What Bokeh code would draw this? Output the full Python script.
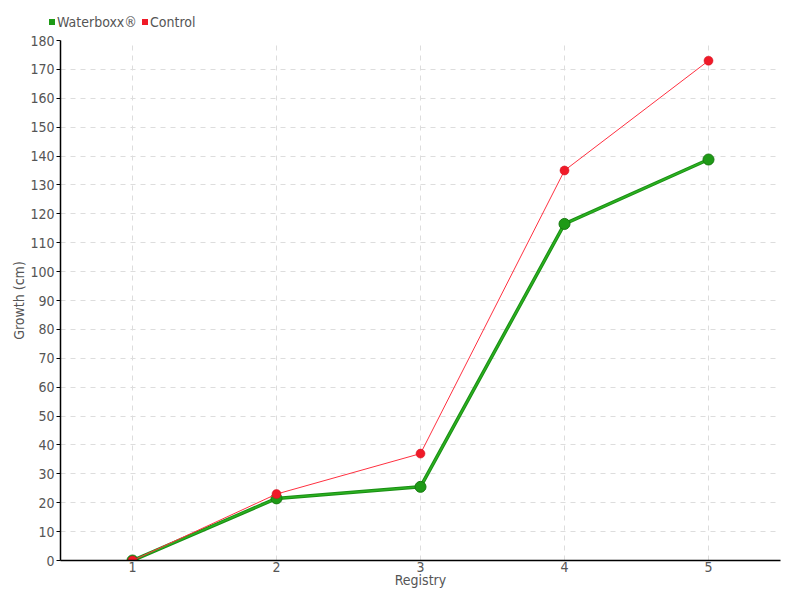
from bokeh.plotting import figure
from bokeh.models import FixedTicker, Range1d, Div
from bokeh.layouts import column
from bokeh.embed import file_html
from bokeh.resources import INLINE

registry = [1, 2, 3, 4, 5]
waterboxx = [0, 21.5, 25.5, 116.5, 138.8]
control = [0, 23, 37, 135, 173]
y_ticks = list(range(0, 181, 10))
series_names = ["Waterboxx®", "Control"]
series_colors = ["#1e9a16", "#f01a28"]

FONT = "DejaVu Sans Condensed"
TXT = "#555555"

# ---- legend strip (HTML, top 32 px) ----
sq_left = [49, 142]
tx_left = [57, 150]
parts = ['<div style="position:relative;width:800px;height:32px;">']
for name, col, sl, tl in zip(series_names, series_colors, sq_left, tx_left):
    parts.append(f'<span style="position:absolute;left:{sl}px;top:19px;width:6px;height:6px;'
                 f'background:{col};"></span>')
    parts.append(f'<span style="position:absolute;left:{tl}px;top:14px;line-height:16px;'
                 f'font-family:\'{FONT}\';font-size:14px;color:{TXT};white-space:nowrap;">{name}</span>')
parts.append('</div>')
legend_div = Div(text="".join(parts), width=800, height=32, margin=0)

# ---- main plot ----
p = figure(width=800, height=568, output_backend="svg", toolbar_location=None,
           x_range=Range1d(0.5, 5.5), y_range=Range1d(0, 180),
           min_border_left=60, min_border_right=20, min_border_top=8, min_border_bottom=40)
p.outline_line_color = None
p.background_fill_color = "white"

p.line(registry, waterboxx, line_color="#1a8f14", line_width=3.5)
p.line(registry, waterboxx, line_color="#2bb020", line_width=1.5)
p.scatter(registry, waterboxx, size=11, fill_color=series_colors[0], line_color="#167a10", line_width=1)
p.line(registry, control, line_color="#ff3040", line_width=1)
p.scatter(registry, control, size=9, fill_color=series_colors[1], line_color="#d01020", line_width=0.5)

p.xaxis.ticker = FixedTicker(ticks=registry)
p.yaxis.ticker = FixedTicker(ticks=y_ticks)
p.xaxis.axis_label = "Registry"
p.yaxis.axis_label = "Growth (cm)"
for ax in (p.xaxis[0], p.yaxis[0]):
    ax.axis_line_color = "black"
    ax.axis_line_width = 1.5
    ax.major_label_text_font = FONT
    ax.major_label_text_font_size = "14px"
    ax.major_label_text_color = TXT
    ax.axis_label_text_font = FONT
    ax.axis_label_text_font_size = "14px"
    ax.axis_label_text_color = TXT
    ax.axis_label_text_font_style = "normal"
    ax.minor_tick_line_color = None
p.xaxis.major_tick_line_color = None
p.xaxis.major_tick_out = 0
p.xaxis.major_tick_in = 0
p.xaxis.major_label_standoff = 1
p.xaxis.axis_label_standoff = -3
p.yaxis.major_tick_in = 0
p.yaxis.major_tick_out = 4
p.yaxis.major_tick_line_color = "black"
p.yaxis.major_label_standoff = 2
p.yaxis.axis_label_standoff = 0

p.xgrid.ticker = FixedTicker(ticks=registry)
p.ygrid.ticker = FixedTicker(ticks=y_ticks)
for gr in (p.xgrid[0], p.ygrid[0]):
    gr.grid_line_color = "#dddddd"
    gr.grid_line_dash = "5 5"
    gr.grid_line_width = 1

layout = column(legend_div, p, spacing=0)
open("out.html", "w").write(file_html(layout, INLINE))
